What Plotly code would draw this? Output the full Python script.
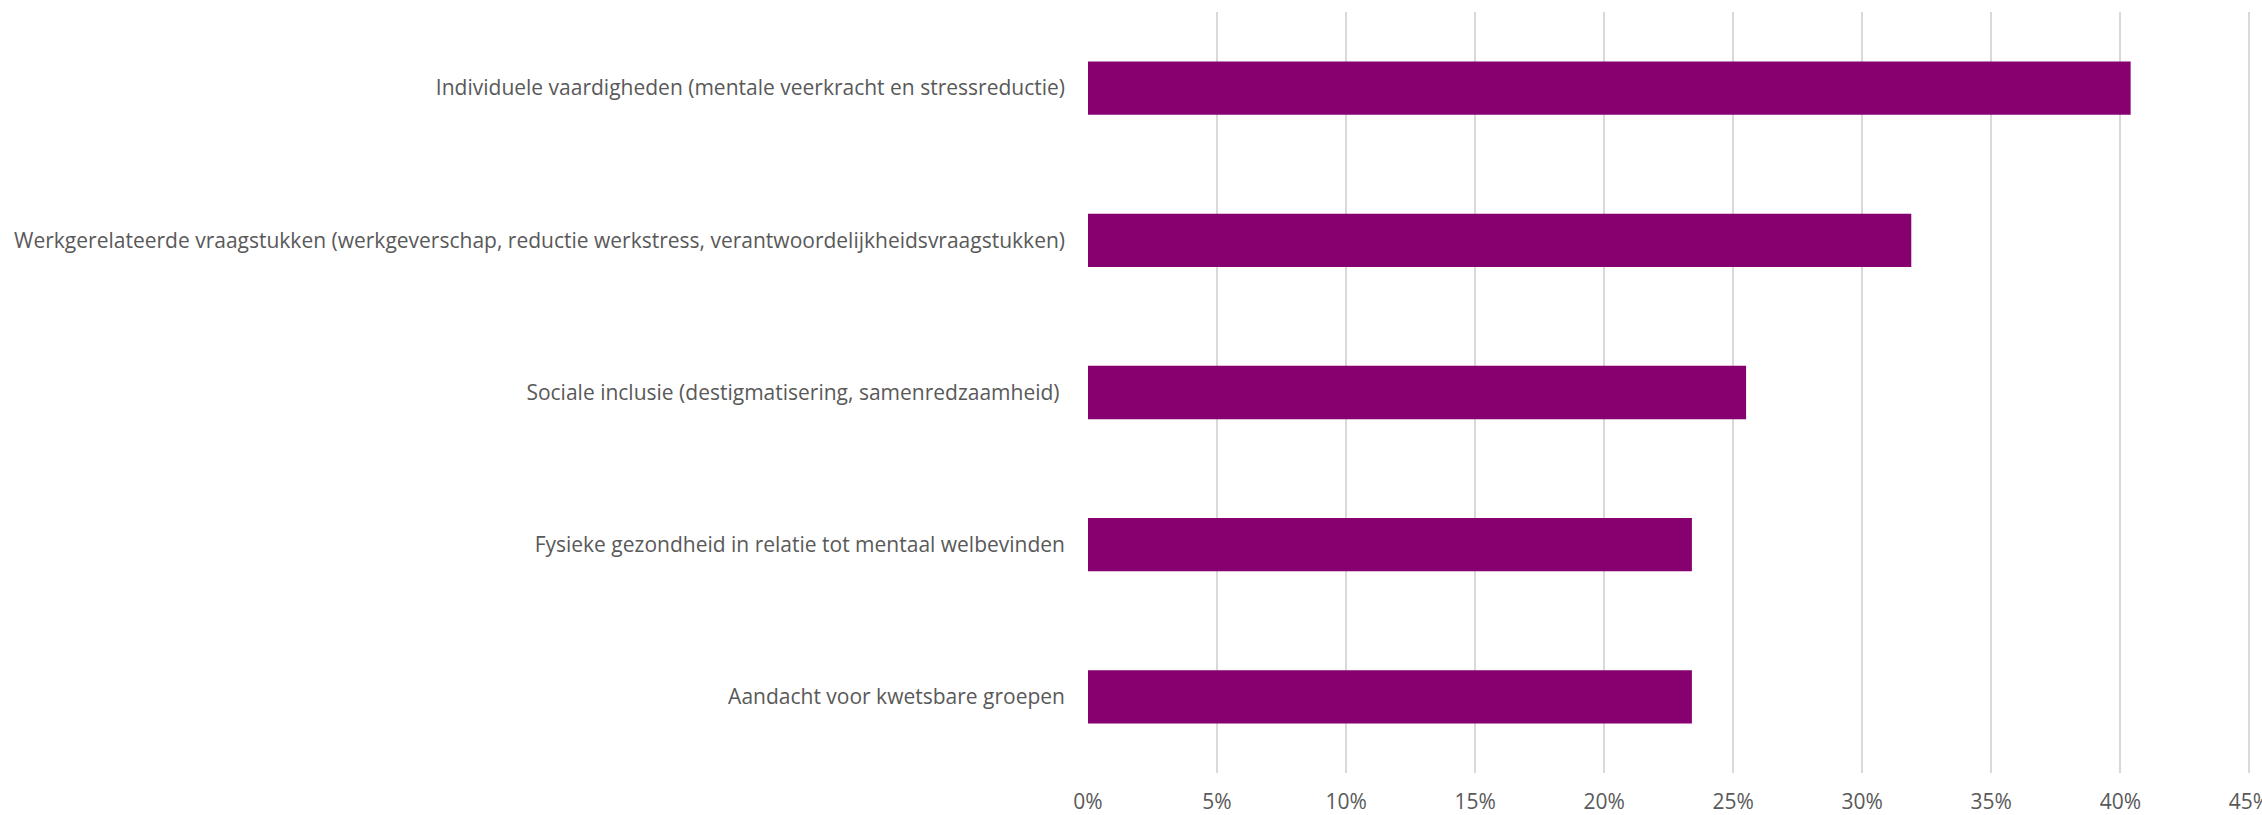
import plotly.graph_objects as go

categories = [
    "Individuele vaardigheden (mentale veerkracht en stressreductie)",
    "Werkgerelateerde vraagstukken (werkgeverschap, reductie werkstress, verantwoordelijkheidsvraagstukken)",
    "Sociale inclusie (destigmatisering, samenredzaamheid) ",
    "Fysieke gezondheid in relatie tot mentaal welbevinden",
    "Aandacht voor kwetsbare groepen",
]
values = [0.404, 0.319, 0.255, 0.234, 0.234]
tick_vals = [0, 0.05, 0.10, 0.15, 0.20, 0.25, 0.30, 0.35, 0.40, 0.45]
tick_text = ["0%", "5%", "10%", "15%", "20%", "25%", "30%", "35%", "40%", "45%"]

fig = go.Figure(
    go.Bar(
        x=values,
        y=categories,
        orientation="h",
        marker=dict(color="#860070", line=dict(width=0)),
        hoverinfo="x+y",
    )
)

fig.update_layout(
    width=2262,
    height=815,
    margin=dict(l=1088, r=8, t=12, b=42, autoexpand=False),
    paper_bgcolor="white",
    plot_bgcolor="white",
    bargap=0.65,
    showlegend=False,
    font=dict(family="Open Sans", size=21, color="#595959"),
)

fig.update_xaxes(
    range=[0, 0.4518],
    tickvals=tick_vals,
    ticktext=tick_text,
    showgrid=True,
    gridcolor="#d9d9d9",
    gridwidth=1.5,
    zeroline=False,
    showline=False,
    ticks="",
    automargin=False,
    ticklabeloverflow="allow",
    ticklabelstandoff=14,
    tickfont=dict(size=21, color="#595959"),
)

fig.update_yaxes(
    autorange="reversed",
    showgrid=False,
    zeroline=False,
    showline=False,
    ticks="",
    automargin=False,
    ticklabelstandoff=22,
    tickfont=dict(size=21, color="#595959"),
)

fig.write_html("out.html")
